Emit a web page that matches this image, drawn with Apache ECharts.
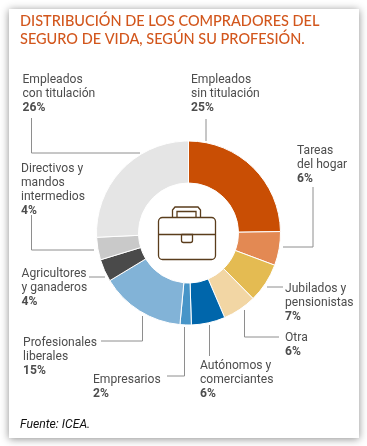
<!DOCTYPE html>
<html>
<head>
<meta charset="utf-8">
<style>html,body{margin:0;padding:0;background:#fff}#main{width:367px;height:446px}</style>
<script src="https://cdn.jsdelivr.net/npm/echarts@6/dist/echarts.min.js"></script>
</head>
<body>
<div id="main"></div>
<script>
const categories = ['Empleados\nsin titulación', 'Tareas\ndel hogar', 'Jubilados y\npensionistas', 'Otra', 'Autónomos y\ncomerciantes', 'Empresarios', 'Profesionales\nliberales', 'Agricultores\ny ganaderos', 'Directivos y\nmandos\nintermedios', 'Empleados\ncon titulación'];
const values = [25, 6, 7, 6, 6, 2, 15, 4, 4, 26];
const colors = ['#c94e04', '#e38953', '#e4bb52', '#f2d6a4', '#0066ab', '#4795c8', '#82b3d7', '#4a4a4a', '#c9c9c9', '#e5e5e5'];

// top-left corner of every label, same order as categories
const labelPos = [[191, 72], [297, 143], [285, 281], [285, 330], [200, 358], [93, 372], [23, 335], [21.5, 266], [21, 161], [22.5, 72]];
// leader lines
const leaders = [
    [[206, 119], [206, 141]],
    [[313, 187], [313, 247], [283, 247]],
    [[283, 287], [267, 287]],
    [[279, 337], [244.5, 337], [244.5, 310]],
    [[209.5, 356], [209.5, 325]],
    [[167, 376], [184.5, 376], [184.5, 327]],
    [[101, 341], [142.5, 341], [142.5, 316]],
    [[89, 277], [105, 277]],
    [[31.5, 215], [31.5, 250], [94, 250]],
    [[31.5, 118], [31.5, 153], [140, 153]]
];

const chart = echarts.init(document.getElementById('main'));

const graphic = [
    {
        type: 'rect', z: -10, silent: true,
        shape: { x: 9, y: 9, width: 350, height: 429 },
        style: { fill: '#fff', shadowBlur: 8, shadowColor: 'rgba(0,0,0,0.45)', shadowOffsetX: 0, shadowOffsetY: 1 }
    },
    {
        type: 'text', left: 20, top: 12, silent: true,
        style: {
            text: 'DISTRIBUCIÓN DE LOS COMPRADORES DEL\nSEGURO DE VIDA, SEGÚN SU PROFESIÓN.',
            font: '500 14.5px Lato', lineHeight: 18, fill: '#d2561c'
        }
    },
    {
        type: 'text', left: 20, top: 419, silent: true,
        style: { text: 'Fuente: ICEA.', font: 'italic 12.2px Roboto', fill: '#111' }
    }
];
leaders.forEach(function (pts) {
    graphic.push({
        type: 'polyline', silent: true, z: 5,
        shape: { points: pts },
        style: { stroke: '#8e8e8e', lineWidth: 1, fill: null }
    });
});
// briefcase icon in the hole
const brown = { stroke: '#5a3d1c', lineWidth: 1.3, fill: null };
[
    { type: 'rect', shape: { x: 158.5, y: 217.5, width: 57, height: 42, r: 4 } },
    { type: 'polyline', shape: { points: [[158.5, 234.5], [215.5, 234.5]] } },
    { type: 'rect', shape: { x: 181.5, y: 234.5, width: 11, height: 8, r: [0, 0, 2, 2] } },
    { type: 'polyline', shape: { points: [[172.5, 217], [172.5, 210], [175, 207], [198, 207], [200.5, 210], [200.5, 217]] } },
    { type: 'polyline', shape: { points: [[177, 217], [177, 211.5], [196, 211.5], [196, 217]] } }
].forEach(function (el) {
    el.silent = true;
    el.z = 6;
    el.style = brown;
    graphic.push(el);
});

chart.setOption({
    animation: false,
    graphic: graphic,
    series: [{
        type: 'pie',
        center: [188.5, 233],
        radius: [50, 92],
        startAngle: 90,
        clockwise: true,
        avoidLabelOverlap: false,
        silent: true,
        itemStyle: { borderColor: '#fff', borderWidth: 1 },
        data: categories.map(function (name, i) {
            return { name: name, value: values[i], itemStyle: { color: colors[i] } };
        }),
        label: {
            show: true,
            position: 'outside',
            formatter: function (p) {
                return p.name.split('\n').map(function (s) { return '{a|' + s + '}'; }).join('\n') + '\n{b|' + p.value + '%}';
            },
            rich: {
                a: { fontFamily: 'Roboto', fontSize: 12.1, lineHeight: 14, color: '#4d4d4d', align: 'left' },
                b: { fontFamily: 'Roboto', fontSize: 12.1, fontWeight: 'bold', lineHeight: 15, color: '#4d4d4d', align: 'left' }
            }
        },
        labelLine: { show: false },
        labelLayout: function (p) {
            const pos = labelPos[p.dataIndex];
            return { x: pos[0], y: pos[1] + 0.5, align: 'left', verticalAlign: 'top', hideOverlap: false };
        }
    }]
});
</script>
</body>
</html>
